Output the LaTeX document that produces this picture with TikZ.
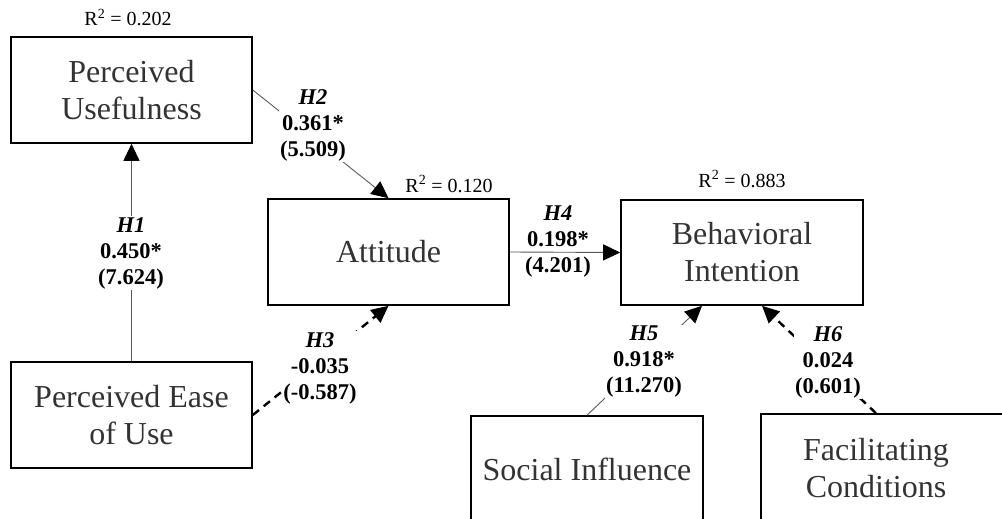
\documentclass[tikz,border=0pt]{standalone}
\usepackage{fontspec}
\setmainfont{Liberation Serif}
\usetikzlibrary{arrows.meta,calc}
\tikzset{
 box/.style={draw=black, line width=1.6pt, text=black!80, font=\fontsize{32}{37}\selectfont, align=center, inner sep=0pt, minimum width=241pt, minimum height=106pt},
 lbl/.style={font=\fontsize{22.5}{26}\selectfont\bfseries, align=center, inner sep=1pt},
 lblw/.style={lbl, fill=white},
 rsq/.style={font=\fontsize{20}{24}\selectfont, anchor=base, inner sep=0pt},
 solidarrow/.style={draw=black!65, line width=0.9pt, -{Triangle[length=17pt,width=16pt,color=black]}},
 dasharrow/.style={draw=black, line width=2.4pt, dash pattern=on 8pt off 6pt, -{Triangle[length=17pt,width=16pt]}},
}
\begin{document}
\begin{tikzpicture}[x=1pt,y=-1pt]
\useasboundingbox (0,0) rectangle (1002,519);
\clip (0,0) rectangle (1002,519);
% boxes
\node[box] (pu) at (131.5,90) {Perceived\\Usefulness};
\node[box] (att) at (388.5,252) {Attitude};
\node[box, minimum width=242pt, minimum height=105pt] (bi) at (742,252.5) {Behavioral\\Intention};
\node[box] (peou) at (131.5,415) {Perceived Ease\\of Use};
\node[box, minimum width=232pt] (si) at (587,469) {Social Influence};
\node[box, minimum width=250pt, minimum height=108pt] (fc) at (886,468) {Facilitating\hspace*{20pt}\\Conditions\hspace*{20pt}};
% R squared
\node[rsq] (r1) at (128,26) {R\textsuperscript{2} = 0.202};
\node[rsq] (r2) at (449,192) {R\textsuperscript{2} = 0.120};
\node[rsq] (r3) at (742,187) {R\textsuperscript{2} = 0.883};
% connectors
\draw[solidarrow] (peou.north) -- (pu.south);
\draw[solidarrow] (pu.east) -- (att.north);
\draw[dasharrow] (peou.east) -- (att.south);
\draw[solidarrow] (att.east) -- (bi.west);
\draw[solidarrow] (si.north) -- ([xshift=-40pt]bi.south);
\draw[dasharrow] ([xshift=-10pt]fc.north) -- ([xshift=20pt]bi.south);
% labels
\node[lblw] (h1) at (131,253) {\textit{H1}\\0.450*\\(7.624)};
\node[lblw] (h2) at (313,125) {\textit{H2}\\0.361*\\(5.509)};
\node[lblw] (h3) at (320,368) {\textit{H3}\\-0.035\\(-0.587)};
\node[lbl] (h4) at (558,241) {\textit{H4}\\0.198*\\(4.201)};
\node[lblw] (h5) at (644,362) {\textit{H5}\\0.918*\\(11.270)};
\node[lblw] (h6) at (828,362) {\textit{H6}\\0.024\\(0.601)};
\end{tikzpicture}
\end{document}
